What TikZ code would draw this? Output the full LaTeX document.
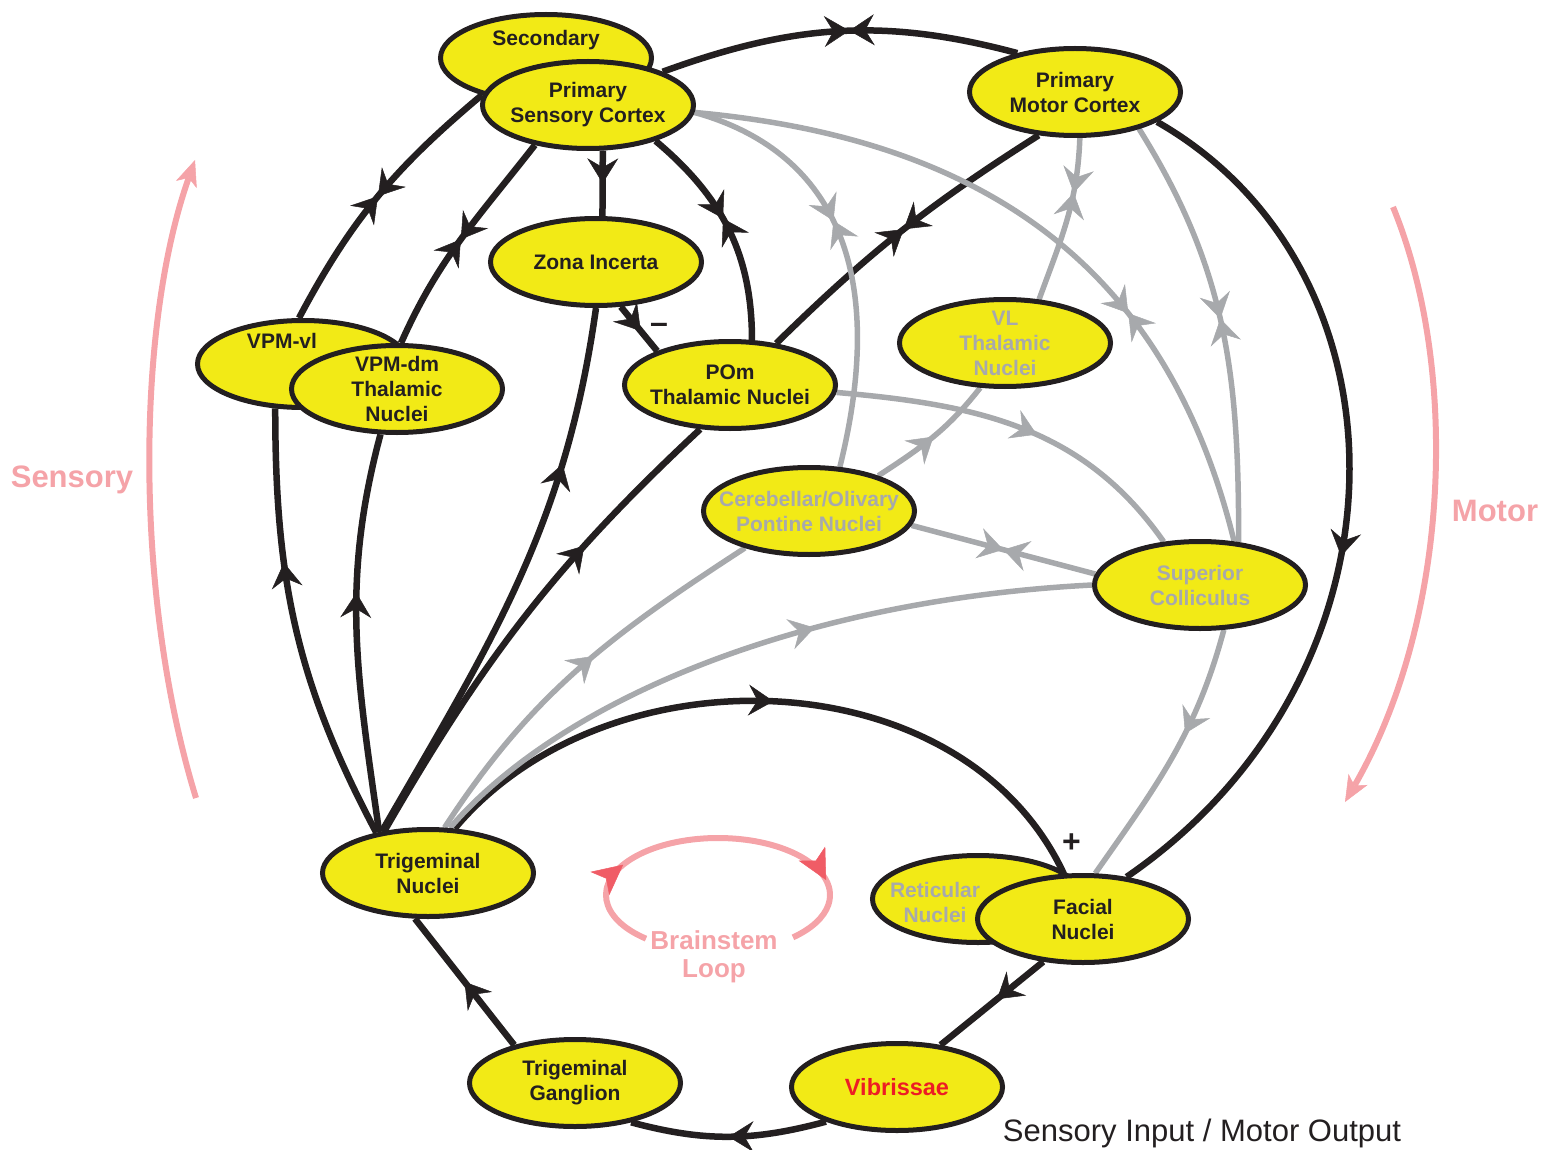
\documentclass[tikz,border=0pt]{standalone}
\usepackage{fontspec}
\setmainfont{Liberation Sans}
\usepackage{tikz}
\usetikzlibrary{arrows.meta,shapes.geometric,decorations.markings}
\definecolor{nucyellow}{RGB}{242,234,22}
\definecolor{nrvblack}{RGB}{35,31,32}
\definecolor{nrvgray}{RGB}{167,169,172}
\definecolor{sidepink}{RGB}{245,163,168}
\definecolor{loopred}{RGB}{240,92,102}
\definecolor{vibred}{RGB}{237,28,36}
\newcommand*{\nucW}{211pt}
\newcommand*{\nucH}{87pt}
\newcommand*{\nucfont}{\fontsize{21}{25}\selectfont\bfseries}
\pgfdeclarelayer{bg}
\pgfsetlayers{bg,main}
\tikzset{
	nucleus/.style={ellipse,draw=nrvblack,line width=5pt,fill=nucyellow,
		minimum width=\nucW,minimum height=\nucH,inner xsep=-20pt,inner ysep=-10pt,
		align=center,font=\nucfont,text=nrvblack},
	nuctext/.style={align=center,font=\nucfont,text=nrvblack},
	greytext/.style={text=nrvgray},
	blk/.style={draw=nrvblack,line width=6.5pt},
	gry/.style={draw=nrvgray,line width=5.5pt},
	fwd/.style={postaction={decorate,decoration={markings,mark=at position #1 with {\arrow{>}}}}},
	bid/.style={postaction={decorate,decoration={markings,mark=at position #1 with {\arrow{>}\arrowreversed{>}}}}},
	signtxt/.style={font=\fontsize{32}{32}\selectfont\bfseries,inner sep=0pt,text=nrvblack},
	sidearc/.style={draw=sidepink,line width=6pt,-{Stealth[length=26pt,width=22pt,inset=7pt,line width=.5pt]}},
	sidetxt/.style={font=\fontsize{31}{36}\selectfont\bfseries,text=sidepink,align=center},
}

\begin{document}
\begin{tikzpicture}[x=1pt,y=-1pt,>={Stealth[length=25pt,width=31pt,inset=9pt,line width=.5pt]}]
	\useasboundingbox (0,0) rectangle (1554,1150);

	% cortex
	\node[nucleus,label={[nuctext,yshift=18pt]center:Secondary}] (sec) at (546,58) {};
	\node[nucleus] (psc) at (588,105) {Primary\\Sensory Cortex};
	\node[nucleus] (pmc) at (1075,92) {Primary\\Motor Cortex};

	% thalamus and midbrain
	\node[nucleus] (zi) at (596,262) {Zona Incerta};
	\node[nucleus,label={[nuctext,xshift=-21pt,yshift=23pt]center:VPM-vl}] (vpmvl) at (303,364) {};
	\node[nucleus] (vpmdm) at (397,389) {VPM-dm\\Thalamic\\Nuclei};
	\node[nucleus] (pom) at (730,385) {POm\\Thalamic Nuclei};
	\node[nucleus,greytext] (vl) at (1005,343) {VL\\Thalamic\\Nuclei};
	\node[nucleus,greytext] (cop) at (809,511) {Cerebellar/Olivary\\Pontine Nuclei};
	\node[nucleus,greytext] (sc) at (1200,585) {Superior\\Colliculus};

	% brainstem
	\node[nucleus] (tn) at (428,873) {Trigeminal\\Nuclei};
	\node[nucleus,label={[nuctext,greytext,xshift=-43pt,yshift=-3pt]center:{Reticular\\Nuclei}}] (ret) at (978,899) {};
	\node[nucleus] (fac) at (1083,919) {Facial\\Nuclei};
	\node[nucleus] (tg) at (575,1083) {Trigeminal\\Ganglion};
	\node[nucleus,text=vibred,font=\fontsize{23.5}{28}\selectfont\bfseries] (vib) at (897,1087) {Vibrissae};

	\begin{pgfonlayer}{bg}
		% black pathways
		\draw[blk,bid=.53] (psc.24) to[out=20,in=165] (pmc.146);
		\draw[blk,bid=.5] (vpmvl.95) to[out=62,in=220] (sec.210);
		\draw[blk,bid=.5] (vpmdm.85) to[out=66,in=232] (psc.217);
		\draw[blk,fwd=.5] (psc.-72) -- (zi.82);
		\draw[blk,bid=.45] (psc.-28) to[out=-40,in=90] (pom.64);
		\draw[blk,fwd=.55] (zi.-61) -- node[signtxt,pos=.5,right=8pt] {--} (pom.155);
		\draw[blk,bid=.49] (pmc.230) to[bend right=6] (pom.42);
		\draw[blk,fwd=.56] (pmc.-20) .. controls (1418,271) and (1419,676) .. (fac.44);
		\draw[blk,fwd=.65] (tn.142) to[out=118,in=-90] (vpmvl.238);
		\draw[blk,fwd=.6] (tn.140) to[out=98,in=-105] (vpmdm.250);
		\draw[blk,fwd=.72] (tn.138) to[out=60,in=-98] (zi.-90);
		\draw[blk,fwd=.68] (tn.136) to[out=60,in=-137] (pom.236);
		\draw[blk,fwd=.5] (tn.59) to[out=50,in=115] node[signtxt,pos=.95,right=12pt] {+} (fac.113);
		\draw[blk,fwd=.5] (tg.148) -- (tn.254);
		\draw[blk,fwd=.5] (vib.206) to[out=-165,in=-15] (tg.-35);
		\draw[blk,fwd=.45] (fac.227) -- (vib.44);

		% grey pathways
		\draw[gry,bid=.42] (psc.-4) .. controls (830,150) and (890,265) .. (cop.55);
		\draw[gry,bid=.66] (psc.-4) .. controls (1000,140) and (1170,280) .. (sc.52);
		\draw[gry,bid=.48] (pmc.-30) to[out=-58,in=90] (sc.48);
		\draw[gry,bid=.33] (pmc.-84) to[out=-92,in=70] (vl.52);
		\draw[gry,fwd=.5] (cop.27) to[out=33,in=-128] (vl.241);
		\draw[gry,fwd=.55] (pom.-4) to[out=-5,in=125] (sc.130);
		\draw[gry,bid=.5] (cop.-8) -- (sc.174);
		\draw[gry,fwd=.55] (tn.70) to[out=57,in=-147] (cop.210);
		\draw[gry,fwd=.6] (tn.64) .. controls (560,700) and (800,600) .. (sc.180);
		\draw[gry,fwd=.4] (sc.-62) to[out=-105,in=55] (fac.75);
	\end{pgfonlayer}

	% sensory / motor sweep
	\coordinate (sensfoot) at (196,798);
	\coordinate (senstip) at (195,160);
	\draw[sidearc] (sensfoot) .. controls (135,600) and (135,330) .. (senstip);
	\node[sidetxt] (senslab) at (72,480) {Sensory};
	\coordinate (motfoot) at (1393,207);
	\coordinate (mottip) at (1345,802);
	\draw[sidearc] (motfoot) .. controls (1460,370) and (1450,620) .. (mottip);
	\node[sidetxt] (motlab) at (1495,511) {Motor};

	% brainstem loop
	\coordinate (loopc) at (718,895);
	\draw[draw=sidepink,line width=6pt,>={Stealth[length=30pt,width=30pt,inset=8pt,color=loopred,line width=.5pt]},
		postaction={decorate,decoration={markings,
			mark=at position .25 with {\arrow{>}},mark=at position .81 with {\arrow{>}}}}]
		(loopc) ++(130:112 and 57) arc[start angle=130,end angle=408,x radius=112,y radius=57];
	\node[sidetxt,font=\fontsize{26}{28}\selectfont\bfseries] (looplab) at (714,957) {Brainstem\\Loop};

	\node[font=\fontsize{31}{36}\selectfont,text=nrvblack] (io) at (1202,1133) {Sensory Input / Motor Output};
\end{tikzpicture}
\end{document}
